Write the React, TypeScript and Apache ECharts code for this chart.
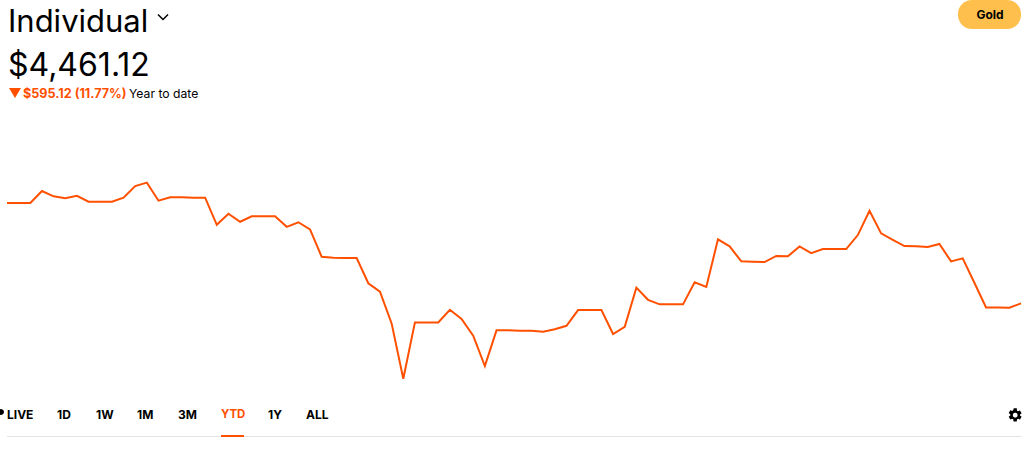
import React, { useEffect, useRef } from "react";
import * as echarts from "echarts";

const values = [
  5056, 5056, 5056, 5127, 5096, 5084, 5099, 5064, 5064, 5064, 5088, 5157, 5177, 5070, 5090, 5090,
  5088, 5088, 4927, 4993, 4945, 4977, 4977, 4977, 4915, 4942, 4900, 4737, 4732, 4730, 4730, 4580,
  4530, 4342, 4014, 4348, 4348, 4348, 4423, 4368, 4269, 4089, 4301, 4301, 4298, 4298, 4293, 4307,
  4328, 4421, 4421, 4421, 4279, 4322, 4554, 4482, 4455, 4455, 4455, 4586, 4558, 4841, 4799, 4710,
  4708, 4706, 4742, 4740, 4799, 4759, 4783, 4783, 4783, 4866, 5010, 4876, 4838, 4801, 4799, 4795,
  4813, 4710, 4728, 4583, 4437, 4437, 4435, 4461,
];
const days = values.map((_, i) => String(i + 1));
const tabs = ["LIVE", "1D", "1W", "1M", "3M", "YTD", "1Y", "ALL"];
const tabX = [7, 57, 96, 137, 178, 221, 268, 306];
const ORANGE = "#ff5000";
const FONT = "Inter";

const gearPath =
  "M19.14 12.94c.04-.3.06-.61.06-.94s-.02-.64-.07-.94l2.03-1.58a.49.49 0 0 0 .12-.61l-1.92-3.32a.49.49 0 0 0-.59-.22l-2.39.96a7 7 0 0 0-1.62-.94l-.36-2.54A.48.48 0 0 0 13.92 2h-3.84a.47.47 0 0 0-.47.41l-.36 2.54c-.59.24-1.13.57-1.62.94l-2.39-.96a.48.48 0 0 0-.59.22L2.73 8.47a.47.47 0 0 0 .12.61l2.03 1.58c-.05.3-.08.63-.08.94s.02.64.07.94l-2.03 1.58a.49.49 0 0 0-.12.61l1.92 3.32c.12.22.37.29.59.22l2.39-.96c.5.38 1.03.7 1.62.94l.36 2.54c.05.24.24.41.48.41h3.84c.24 0 .44-.17.47-.41l.36-2.54c.59-.24 1.13-.56 1.62-.94l2.39.96c.22.08.47 0 .59-.22l1.92-3.32a.47.47 0 0 0-.12-.61l-2.01-1.58Z";
echarts.graphic.registerShape("gear", echarts.graphic.extendPath(gearPath, {}) as any);

export default function App() {
  const ref = useRef<HTMLDivElement>(null);
  useEffect(() => {
    document.body.style.margin = "0";
    document.body.style.background = "#fff";
    const chart = echarts.init(ref.current!, undefined, { renderer: "svg" });
    const txt = (text: string, x: number, y: number, size: number, weight: number, fill = "#000", align = "left") => ({
      type: "text",
      x,
      y,
      silent: true,
      style: { text, fontFamily: FONT, fontSize: size, fontWeight: weight, fill, align, verticalAlign: "middle" },
    });
    chart.setOption({
      animation: false,
      backgroundColor: "#fff",
      grid: { left: 7, top: 170, width: 1014, height: 220 },
      xAxis: { type: "category", data: days, boundaryGap: false, show: false },
      yAxis: { type: "value", min: 3947, max: 5252, show: false },
      series: [
        {
          type: "line",
          data: values,
          showSymbol: false,
          lineStyle: { color: ORANGE, width: 2, join: "miter" },
        },
      ],
      graphic: [
        txt("Individual", 8, 20, 31, 400),
        { type: "polyline", silent: true, shape: { points: [[158, 14.5], [163, 19.5], [168, 14.5]] }, style: { stroke: "#000", lineWidth: 1.5, fill: "none" } },
        txt("$4,461.12", 8, 64, 32, 400),
        { type: "polygon", silent: true, shape: { points: [[9, 88], [21, 88], [15, 98]] }, style: { fill: ORANGE } },
        txt("$595.12 (11.77%)", 23, 93.5, 12.6, 700, ORANGE),
        txt("Year to date", 129, 93.5, 12.2, 400),
        { type: "rect", silent: true, shape: { x: 958, y: 0, width: 63, height: 29, r: 14 }, style: { fill: "#ffbf4d" } },
        txt("Gold", 990, 14, 12, 700, "#000", "center"),
        { type: "circle", silent: true, shape: { cx: 1, cy: 412, r: 3 }, style: { fill: "#000" } },
        ...tabs.map((t, i) => txt(t, tabX[i], 414, t === "YTD" ? 11.4 : 12, 700, t === "YTD" ? ORANGE : "#000")),
        { type: "line", silent: true, shape: { x1: 7, y1: 436.5, x2: 1021, y2: 436.5 }, style: { stroke: "#e3e3e3", lineWidth: 1 } },
        { type: "rect", silent: true, shape: { x: 221, y: 435, width: 23, height: 2 }, style: { fill: ORANGE } },
        { type: "gear", silent: true, x: 1007, y: 407, scaleX: 0.68, scaleY: 0.68, style: { fill: "#000" } },
        { type: "circle", silent: true, shape: { cx: 1015.2, cy: 415.2, r: 2.4 }, style: { fill: "#fff" } },
      ],
    });
    return () => chart.dispose();
  }, []);
  return <div ref={ref} style={{ width: 1030, height: 449 }} />;
}
